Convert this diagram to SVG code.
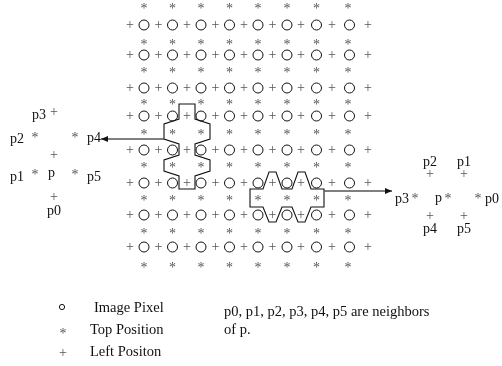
<svg xmlns="http://www.w3.org/2000/svg" width="502" height="366" viewBox="0 0 502 366">
  <style>
    text { font-family: "Liberation Serif", "Times New Roman", serif; }
    .sym { font-size: 14px; fill: #555; text-anchor: middle; }
    .lbl { font-size: 14px; fill: #111; }
    .leg { font-size: 14.5px; fill: #111; }
    .px circle, circle.px { fill: none; stroke: #111; stroke-width: 1; }
    .region { fill: none; stroke: #111; stroke-width: 1.1; stroke-linejoin: miter; }
    .link { stroke: #555; stroke-width: 1.3; fill: none; }
  </style>
  <defs>
    <marker id="head" markerWidth="8" markerHeight="6" refX="7" refY="3" orient="auto" markerUnits="userSpaceOnUse">
      <path d="M0,0 L7,3 L0,6 z" fill="#111"/>
    </marker>
    <!-- keeps the small glyphs neutral grey -->
    <filter id="mono" filterUnits="userSpaceOnUse" x="0" y="0" width="502" height="366">
      <feColorMatrix type="saturate" values="0"/>
    </filter>
  </defs>

  <g id="figure" filter="url(#mono)">

  <!-- lattice: left positions (+) on pixel rows -->
  <g id="left-positions" class="sym">
    <text x="130 158.5 187 215.5 244 272.5 301 332 368" y="28.5">+++++++++</text>
    <text x="130 158.5 187 215.5 244 272.5 301 332 368" y="58.5">+++++++++</text>
    <text x="130 158.5 187 215.5 244 272.5 301 332 368" y="91.5">+++++++++</text>
    <text x="130 158.5 187 215.5 244 272.5 301 332 368" y="119.5">+++++++++</text>
    <text x="130 158.5 187 215.5 244 272.5 301 332 368" y="153.5">+++++++++</text>
    <text x="130 158.5 187 215.5 244 272.5 301 332 368" y="186.5">+++++++++</text>
    <text x="130 158.5 187 215.5 244 272.5 301 332 368" y="218.5">+++++++++</text>
    <text x="130 158.5 187 215.5 244 272.5 301 332 368" y="250.5">+++++++++</text>
  </g>

  <!-- lattice: top positions (*) between pixel rows -->
  <g id="top-positions" class="sym">
    <text x="144 172.5 201 229.5 258 287 316.5 348" y="12.6">********</text>
    <text x="144 172.5 201 229.5 258 287 316.5 348" y="48.6">********</text>
    <text x="144 172.5 201 229.5 258 287 316.5 348" y="76.6">********</text>
    <text x="144 172.5 201 229.5 258 287 316.5 348" y="108.6">********</text>
    <text x="144 172.5 201 229.5 258 287 316.5 348" y="138.6">********</text>
    <text x="144 172.5 201 229.5 258 287 316.5 348" y="171.6">********</text>
    <text x="144 172.5 201 229.5 258 287 316.5 348" y="204.6">********</text>
    <text x="144 172.5 201 229.5 258 287 316.5 348" y="237.6">********</text>
    <text x="144 172.5 201 229.5 258 287 316.5 348" y="271.6">********</text>
  </g>

  <!-- lattice: image pixels -->
  <g id="pixels" class="px">
    <circle cx="144" cy="25" r="5"/><circle cx="172.5" cy="25" r="5"/><circle cx="201" cy="25" r="5"/><circle cx="229.5" cy="25" r="5"/><circle cx="258" cy="25" r="5"/><circle cx="287" cy="25" r="5"/><circle cx="316.5" cy="25" r="5"/><circle cx="349.5" cy="25" r="5"/>
    <circle cx="144" cy="55" r="5"/><circle cx="172.5" cy="55" r="5"/><circle cx="201" cy="55" r="5"/><circle cx="229.5" cy="55" r="5"/><circle cx="258" cy="55" r="5"/><circle cx="287" cy="55" r="5"/><circle cx="316.5" cy="55" r="5"/><circle cx="349.5" cy="55" r="5"/>
    <circle cx="144" cy="88" r="5"/><circle cx="172.5" cy="88" r="5"/><circle cx="201" cy="88" r="5"/><circle cx="229.5" cy="88" r="5"/><circle cx="258" cy="88" r="5"/><circle cx="287" cy="88" r="5"/><circle cx="316.5" cy="88" r="5"/><circle cx="349.5" cy="88" r="5"/>
    <circle cx="144" cy="116" r="5"/><circle cx="172.5" cy="116" r="5"/><circle cx="201" cy="116" r="5"/><circle cx="229.5" cy="116" r="5"/><circle cx="258" cy="116" r="5"/><circle cx="287" cy="116" r="5"/><circle cx="316.5" cy="116" r="5"/><circle cx="349.5" cy="116" r="5"/>
    <circle cx="144" cy="150" r="5"/><circle cx="172.5" cy="150" r="5"/><circle cx="201" cy="150" r="5"/><circle cx="229.5" cy="150" r="5"/><circle cx="258" cy="150" r="5"/><circle cx="287" cy="150" r="5"/><circle cx="316.5" cy="150" r="5"/><circle cx="349.5" cy="150" r="5"/>
    <circle cx="144" cy="183" r="5"/><circle cx="172.5" cy="183" r="5"/><circle cx="201" cy="183" r="5"/><circle cx="229.5" cy="183" r="5"/><circle cx="258" cy="183" r="5"/><circle cx="287" cy="183" r="5"/><circle cx="316.5" cy="183" r="5"/><circle cx="349.5" cy="183" r="5"/>
    <circle cx="144" cy="215" r="5"/><circle cx="172.5" cy="215" r="5"/><circle cx="201" cy="215" r="5"/><circle cx="229.5" cy="215" r="5"/><circle cx="258" cy="215" r="5"/><circle cx="287" cy="215" r="5"/><circle cx="316.5" cy="215" r="5"/><circle cx="349.5" cy="215" r="5"/>
    <circle cx="144" cy="247" r="5"/><circle cx="172.5" cy="247" r="5"/><circle cx="201" cy="247" r="5"/><circle cx="229.5" cy="247" r="5"/><circle cx="258" cy="247" r="5"/><circle cx="287" cy="247" r="5"/><circle cx="316.5" cy="247" r="5"/><circle cx="349.5" cy="247" r="5"/>
  </g>

  <!-- neighbourhood of a left position -->
  <g id="region-left">
    <path class="region" d="M179,104 H195 V119 L210,124 V139 L195,144 V155 L210,160 V171 L195,176 V189 H179 V176 L164,171 V160 L179,155 V144 L164,139 V124 L179,119 Z"/>
  </g>

  <!-- neighbourhood of a top position -->
  <g id="region-top">
    <path class="region" d="M250,189 H263 L269,172 H276 L282,189 H292 L298,172 H305 L311,189 H324 V207 H311 L305,222 H298 L292,207 H282 L276,222 H269 L263,207 H250 Z"/>
  </g>

  <!-- connectors -->
  <g id="connectors">
    <line class="link" x1="164" y1="139" x2="101" y2="139" marker-end="url(#head)"/>
    <line class="link" x1="324" y1="191" x2="392" y2="191" marker-end="url(#head)"/>
  </g>

  <!-- neighbours of a left position -->
  <g id="neighbors-left">
    <text class="lbl" x="32" y="119">p3</text>
    <text class="sym" x="54" y="115.5">+</text>
    <text class="lbl" x="10" y="143">p2</text>
    <text class="sym" x="35" y="141.6">*</text>
    <text class="sym" x="75" y="141.6">*</text>
    <text class="lbl" x="87" y="142">p4</text>
    <text class="sym" x="54" y="158.5">+</text>
    <text class="lbl" x="10" y="181">p1</text>
    <text class="sym" x="35" y="178.6">*</text>
    <text class="lbl" x="48" y="177">p</text>
    <text class="sym" x="75" y="178.6">*</text>
    <text class="lbl" x="87" y="181">p5</text>
    <text class="sym" x="54" y="200.5">+</text>
    <text class="lbl" x="47" y="215">p0</text>
  </g>

  <!-- neighbours of a top position -->
  <g id="neighbors-right">
    <text class="lbl" x="423" y="166">p2</text>
    <text class="lbl" x="457" y="166">p1</text>
    <text class="sym" x="430" y="177.5">+</text>
    <text class="sym" x="464" y="177.5">+</text>
    <text class="lbl" x="395" y="203">p3</text>
    <text class="sym" x="415" y="202.6">*</text>
    <text class="lbl" x="435" y="202">p</text>
    <text class="sym" x="448" y="202.6">*</text>
    <text class="sym" x="478" y="202.6">*</text>
    <text class="lbl" x="485" y="203">p0</text>
    <text class="sym" x="430" y="219.5">+</text>
    <text class="sym" x="464" y="219.5">+</text>
    <text class="lbl" x="423" y="233">p4</text>
    <text class="lbl" x="457" y="233">p5</text>
  </g>

  <!-- legend -->
  <g id="legend">
    <circle class="px" cx="62" cy="307" r="2.6"/>
    <text class="sym" x="63" y="337.6">*</text>
    <text class="sym" x="63" y="356.5">+</text>
    <text class="leg" x="94" y="312">Image Pixel</text>
    <text class="leg" x="90" y="334">Top Position</text>
    <text class="leg" x="90" y="356">Left Positon</text>
    <text class="leg" x="224" y="316">p0, p1, p2, p3, p4, p5 are neighbors</text>
    <text class="leg" x="224" y="334">of p.</text>
  </g>

  </g>
</svg>
